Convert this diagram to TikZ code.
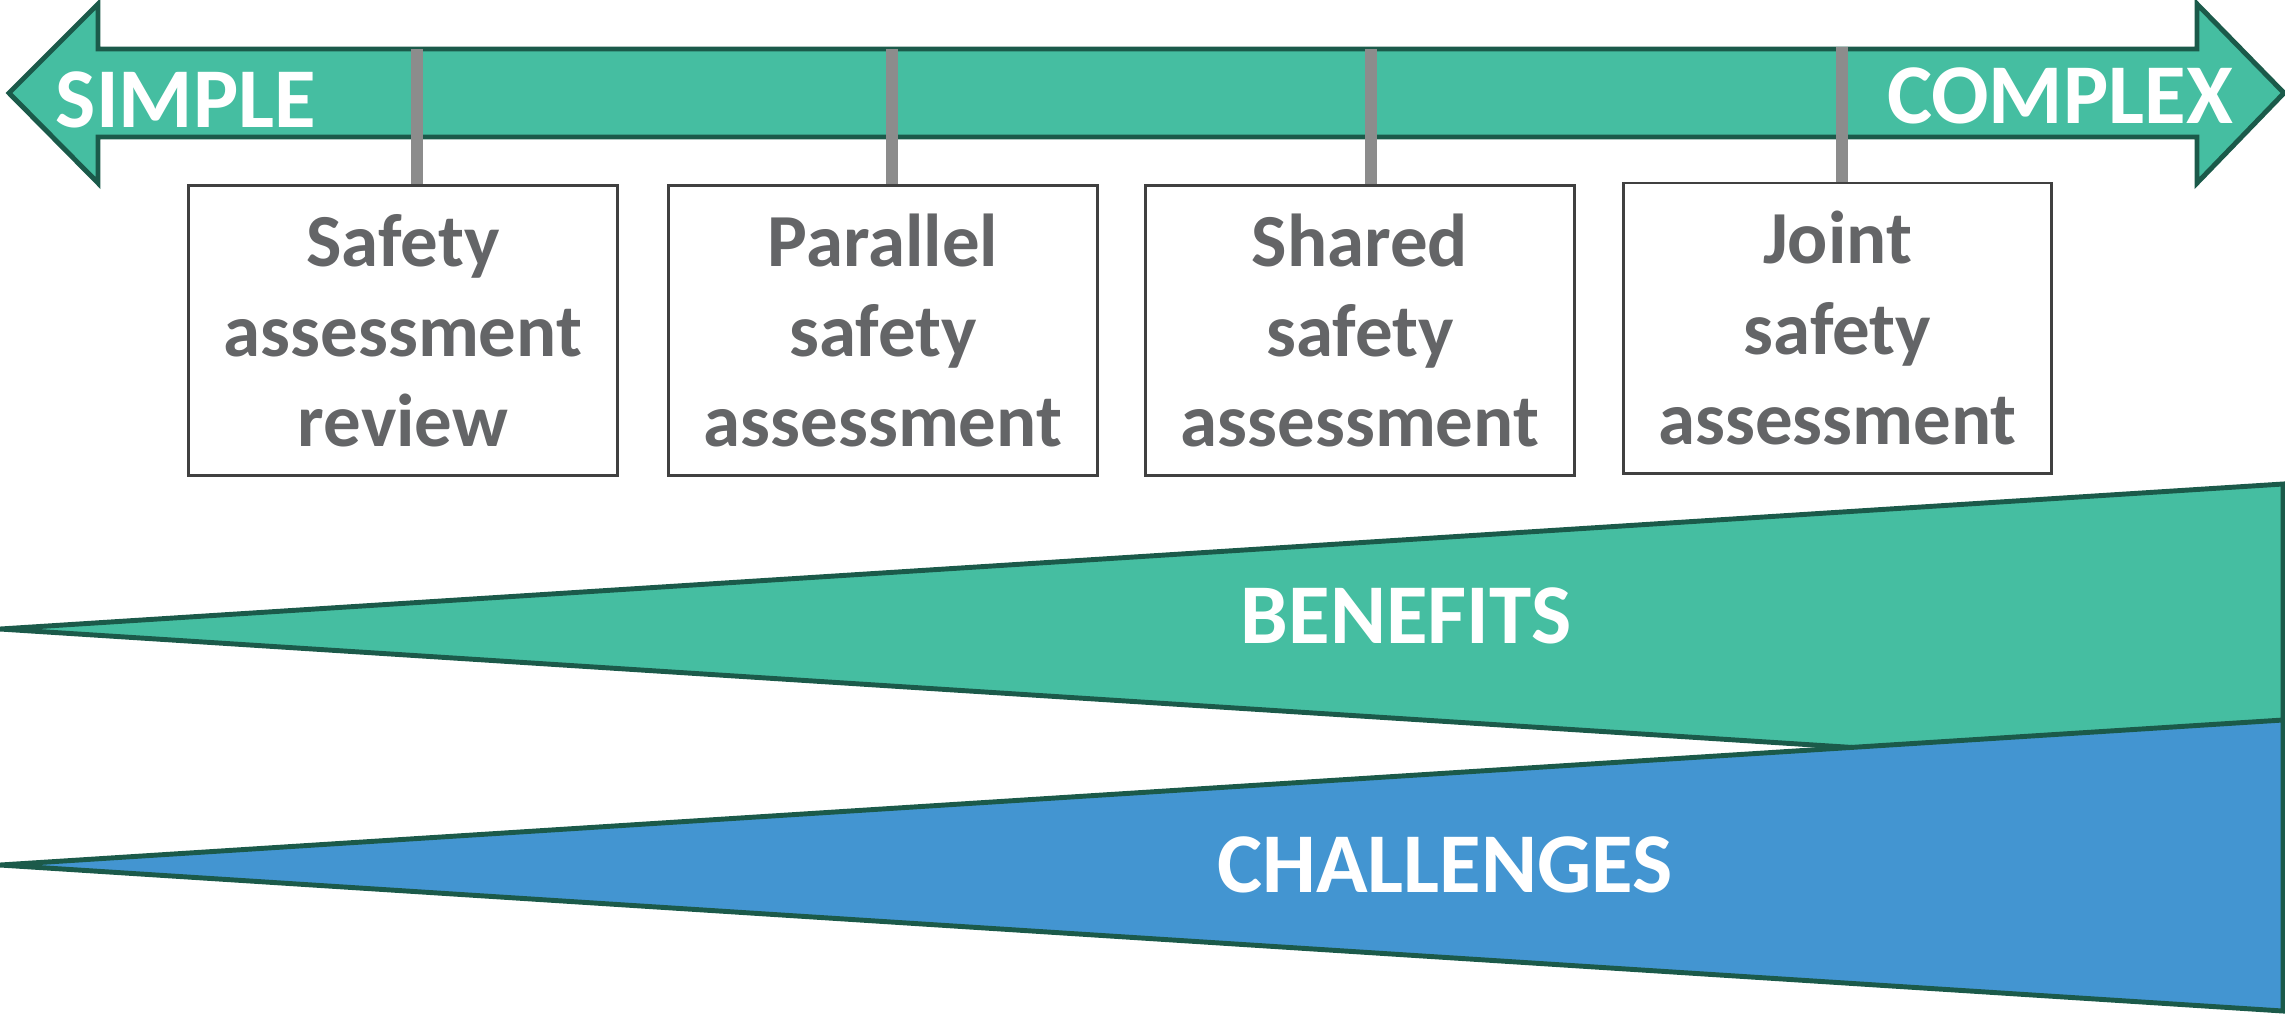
\documentclass[tikz,border=0pt]{standalone}
\usepackage{fontspec}
\setmainfont{Carlito}
\usepackage{tikz}
\definecolor{teal1}{HTML}{45BEA1}
\definecolor{tealdark}{HTML}{1B5A4A}
\definecolor{blue1}{HTML}{4395D1}
\definecolor{textgray}{HTML}{646567}
\definecolor{tickgray}{HTML}{8C8C8C}

\begin{document}
\begin{tikzpicture}[x=0.01cm, y=-0.01cm,
  wedge/.style = {fill = #1, draw = tealdark, line width = 1.4pt, line join = miter},
  stagebox/.style = {draw = black!75, line width = 0.8pt, minimum width = 4.28cm, minimum height = 2.9cm, align = center, text = textgray, font = \fontsize{21.3}{25.6}\selectfont\bfseries},
  bigtext/.style = {text = white, font = \fontsize{24.2}{29}\selectfont\bfseries, anchor = base},
  tick/.style = {draw = tickgray, line width = 3.2pt}]

\useasboundingbox (0,0) rectangle (2285,1014);

\draw[wedge = teal1] (9,93)--(98,4)--(98,49)--(2197,49)--(2197,4)--(2284,93)--(2197,183)--(2197,137)--(98,137)--(98,183)--cycle;
\node[bigtext] (simple) at (186,127) {SIMPLE};
\node[bigtext] (complex) at (2060,123) {COMPLEX};

\draw[wedge = teal1] (0,629)--(2283,484)--(2283,775)--cycle;
\draw[wedge = blue1] (0,865)--(2283,720)--(2283,1011)--cycle;
\node[bigtext] (benefits) at (1406,643) {BENEFITS};
\node[bigtext] (challenges) at (1445,892) {CHALLENGES};

\node[stagebox] (review) at (403,330.5) {Safety\\assessment\\review};
\node[stagebox] (parallel) at (883,330.5) {Parallel\\safety\\assessment};
\node[stagebox] (shared) at (1360,330.5) {Shared\\safety\\assessment};
\node[stagebox] (joint) at (1837.5,328) {Joint\\safety\\assessment};

\coordinate (t1) at (417,49);
\coordinate (t2) at (892,49);
\coordinate (t3) at (1371,49);
\coordinate (t4) at (1842,47);
\draw[tick] (t1)--(t1 |- review.north);
\draw[tick] (t2)--(t2 |- parallel.north);
\draw[tick] (t3)--(t3 |- shared.north);
\draw[tick] (t4)--(t4 |- joint.north);
\end{tikzpicture}
\end{document}
